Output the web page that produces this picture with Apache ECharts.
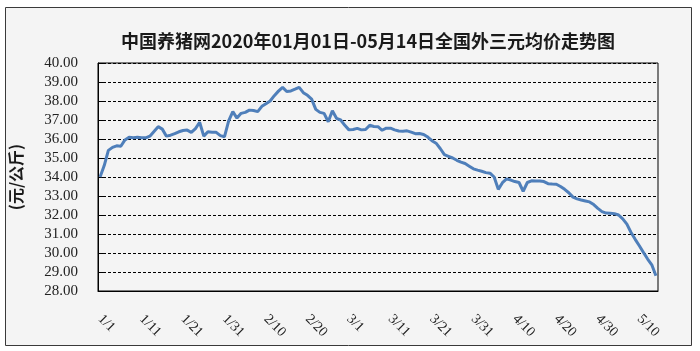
<!DOCTYPE html>
<html>
<head>
<meta charset="utf-8">
<script src="https://cdn.jsdelivr.net/npm/echarts@6/dist/echarts.min.js"></script>
<style>
  html, body { margin: 0; padding: 0; background: #ffffff; }
  #chart { width: 700px; height: 351px; }
</style>
</head>
<body>
<div id="chart"></div>
<script>
// 月份天数 (2020 闰年), 用来生成 1/1 ~ 5/14 的日期
const monthDays = [31, 29, 31, 30, 14];

// 每日均价 (元/公斤)
const prices = [
  34.00, 34.60, 35.40, 35.56, 35.64, 35.62, 35.95, 36.09, 36.07, 36.09,
  36.07, 36.06, 36.15, 36.40, 36.65, 36.52, 36.15, 36.20, 36.28, 36.38,
  36.45, 36.47, 36.35, 36.55, 36.88, 36.15, 36.38, 36.35, 36.35, 36.18,
  36.12, 36.95, 37.44, 37.10, 37.35, 37.40, 37.52, 37.50, 37.44, 37.72,
  37.86, 38.00, 38.28, 38.52, 38.72, 38.50, 38.53, 38.62, 38.72, 38.44,
  38.30, 38.10, 37.56, 37.40, 37.35, 36.91, 37.49, 37.09, 37.00, 36.72,
  36.48, 36.50, 36.56, 36.48, 36.50, 36.72, 36.66, 36.65, 36.46, 36.57,
  36.57, 36.48, 36.42, 36.41, 36.43, 36.36, 36.28, 36.29, 36.24, 36.10,
  35.91, 35.78, 35.50, 35.18, 35.09, 35.00, 34.88, 34.78, 34.71, 34.57,
  34.43, 34.36, 34.30, 34.23, 34.20, 34.00, 33.35, 33.70, 33.90, 33.84,
  33.76, 33.71, 33.25, 33.71, 33.80, 33.79, 33.79, 33.76, 33.65, 33.63,
  33.62, 33.50, 33.35, 33.17, 32.94, 32.85, 32.79, 32.74, 32.69, 32.55,
  32.35, 32.18, 32.10, 32.09, 32.07, 32.00, 31.80, 31.52, 31.08, 30.72,
  30.38, 30.03, 29.68, 29.38, 28.80
];

const yMin = 28;
const yMax = 40;

const dates = [];
monthDays.forEach((n, m) => {
  for (let d = 1; d <= n; d++) dates.push((m + 1) + '/' + d);
});

const chart = echarts.init(document.getElementById('chart'));

const option = {
  backgroundColor: '#ffffff',
  animation: false,
  graphic: [
    {
      type: 'rect',
      z: -10,
      shape: { x: 5.5, y: 7.5, width: 686, height: 338 },
      style: { fill: '#f4f4f4', stroke: '#3a3a3a', lineWidth: 1 }
    }
  ],
  title: {
    text: '中国养猪网2020年01月01日-05月14日全国外三元均价走势图',
    left: 363,
    top: 27,
    textAlign: 'center',
    textStyle: {
      fontFamily: 'Noto Sans CJK SC',
      fontSize: 18,
      fontWeight: 'bold',
      color: '#1a1a1a'
    }
  },
  grid: {
    left: 94,
    right: 42,
    top: 63,
    bottom: 60,
    show: true,
    backgroundColor: '#f4f4f4',
    borderColor: '#000000',
    borderWidth: 1
  },
  xAxis: {
    type: 'category',
    data: dates,
    boundaryGap: true,
    axisLine: { lineStyle: { color: '#000000', width: 1 } },
    axisTick: { inside: true, length: 5, interval: 9, lineStyle: { color: '#000000' } },
    axisLabel: {
      interval: 9,
      rotate: -45,
      margin: 26,
      fontFamily: 'Liberation Serif',
      fontSize: 14,
      color: '#222222'
    },
    splitLine: { show: false }
  },
  yAxis: {
    type: 'value',
    min: yMin,
    max: yMax,
    interval: 1,
    name: '(元/公斤)',
    nameLocation: 'middle',
    nameRotate: 90,
    nameGap: 74,
    nameTextStyle: {
      fontFamily: 'Noto Sans CJK SC',
      fontSize: 16,
      fontWeight: 'bold',
      color: '#1a1a1a'
    },
    axisLine: { show: true, lineStyle: { color: '#000000', width: 1 } },
    axisTick: { show: true, inside: true, length: 5, lineStyle: { color: '#000000' } },
    axisLabel: {
      margin: 20,
      fontFamily: 'Liberation Serif',
      fontSize: 15,
      color: '#222222',
      formatter: (v) => v.toFixed(2)
    },
    splitLine: { show: true, lineStyle: { color: '#000000', type: [3, 2], width: 1 } }
  },
  series: [
    {
      type: 'line',
      data: prices,
      showSymbol: false,
      symbol: 'none',
      lineStyle: { color: '#4f7fba', width: 3 },
      z: 5
    }
  ]
};

chart.setOption(option);
</script>
</body>
</html>
